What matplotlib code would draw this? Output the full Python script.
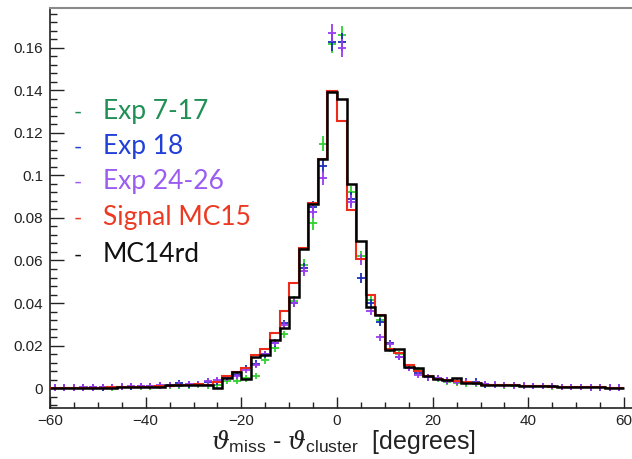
import numpy as np
import matplotlib
matplotlib.use("Agg")
import matplotlib.pyplot as plt
from matplotlib.ticker import MultipleLocator

# ---------------- data ----------------
bin_edges = np.arange(-60, 62, 2)          # 2-degree bins from -60 to 60
centers = np.arange(-59, 60, 2)             # bin centres

# MC14rd (black histogram)
mc14rd = [0.0002, 0.0001, 0.0002, 0.0002, 0.0001, 0.0002, 0.0002,   # -59..-47
          0.0004, 0.0005, 0.0006, 0.0005, 0.0007,                  # -45..-37
          0.0012, 0.0012, 0.0015, 0.0016,                          # -35..-29
          0.0014, 0.0002, 0.0047, 0.0075, 0.0041,                  # -27..-19
          0.0147, 0.0155, 0.0225, 0.0281, 0.0430, 0.0655, 0.0866,  # -17..-5
          0.1076, 0.1394, 0.1358, 0.0960, 0.0690, 0.0380, 0.0344,  # -3..9
          0.0180, 0.0182, 0.0098, 0.0094, 0.0055, 0.0042, 0.0038,  # 11..23
          0.0046, 0.0022, 0.0022, 0.0014, 0.0014, 0.0013, 0.0014, # 25..37
          0.0009, 0.0010, 0.0008, 0.0009, 0.0004, 0.0004, 0.0003, # 39..51
          0.0004, 0.0003, 0.0002, 0.0002]                           # 53..59

# Signal MC15 (red histogram)
signal_mc15 = [0.0002, 0.0002, 0.0001, 0.0002, 0.0002, 0.0002, 0.0003,
               0.0004, 0.0006, 0.0005, 0.0006, 0.0008,
               0.0011, 0.0013, 0.0014, 0.0017,
               0.0016, 0.0030, 0.0055, 0.0077, 0.0093,
               0.0155, 0.0182, 0.0260, 0.0362, 0.0493, 0.0657, 0.0869,
               0.1076, 0.1399, 0.1258, 0.0838, 0.0605, 0.0436, 0.0344,
               0.0185, 0.0165, 0.0110, 0.0082, 0.0056, 0.0041, 0.0036,
               0.0031, 0.0026, 0.0022, 0.0016, 0.0014, 0.0013, 0.0012,
               0.0010, 0.0009, 0.0008, 0.0007, 0.0005, 0.0004, 0.0003,
               0.0003, 0.0003, 0.0002, 0.0002]

# Exp 7-17 (green points)
exp_7_17 = [0.0001, 0.0002, 0.0001, 0.0002, 0.0002, 0.0002, 0.0003,
            0.0005, 0.0005, 0.0006, 0.0007, 0.0008,
            0.0010, 0.0011, 0.0012, 0.0013,
            0.0012, 0.0014, 0.0032, 0.0033, 0.0045,
            0.0057, 0.0130, 0.0186, 0.0252, 0.0410, 0.0580, 0.0775,
            0.1150, 0.1620, 0.1660, 0.0920, 0.0620, 0.0414, 0.0320,
            0.0185, 0.0160, 0.0093, 0.0085, 0.0050, 0.0042, 0.0030,
            0.0025, 0.0022, 0.0020, 0.0016, 0.0014, 0.0012, 0.0011,
            0.0010, 0.0009, 0.0008, 0.0007, 0.0006, 0.0005, 0.0004,
            0.0003, 0.0003, 0.0002, 0.0002]

# Exp 18 (blue points)
exp_18 = [0.0002, 0.0002, 0.0002, 0.0002, 0.0003, 0.0003, 0.0004,
          0.0006, 0.0007, 0.0008, 0.0009, 0.0011,
          0.0013, 0.0025, 0.0016, 0.0018,
          0.0030, 0.0030, 0.0046, 0.0061, 0.0093,
          0.0115, 0.0158, 0.0210, 0.0304, 0.0400, 0.0565, 0.0850,
          0.1045, 0.1630, 0.1630, 0.0890, 0.0518, 0.0400, 0.0310,
          0.0210, 0.0147, 0.0096, 0.0070, 0.0050, 0.0046, 0.0035,
          0.0030, 0.0030, 0.0030, 0.0017, 0.0015, 0.0013, 0.0012,
          0.0010, 0.0009, 0.0008, 0.0008, 0.0006, 0.0005, 0.0004,
          0.0003, 0.0003, 0.0002, 0.0002]

# Exp 24-26 (purple points)
exp_24_26 = [0.0002, 0.0002, 0.0002, 0.0003, 0.0003, 0.0004, 0.0004,
             0.0007, 0.0008, 0.0009, 0.0010, 0.0012,
             0.0014, 0.0016, 0.0018, 0.0020,
             0.0034, 0.0038, 0.0046, 0.0058, 0.0085,
             0.0108, 0.0160, 0.0213, 0.0296, 0.0400, 0.0550, 0.0830,
             0.0987, 0.1670, 0.1600, 0.0877, 0.0605, 0.0362, 0.0239,
             0.0208, 0.0147, 0.0096, 0.0061, 0.0050, 0.0046, 0.0035,
             0.0030, 0.0028, 0.0025, 0.0018, 0.0016, 0.0014, 0.0012,
             0.0011, 0.0010, 0.0009, 0.0008, 0.0006, 0.0005, 0.0004,
             0.0003, 0.0003, 0.0002, 0.0002]

legend_labels = ["Exp 7-17", "Exp 18", "Exp 24-26", "Signal MC15", "MC14rd"]
x_label = r"$\vartheta_{\mathrm{miss}}$ - $\vartheta_{\mathrm{cluster}}$  [degrees]"
x_ticks = [-60, -40, -20, 0, 20, 40, 60]
y_ticks = [0, 0.02, 0.04, 0.06, 0.08, 0.1, 0.12, 0.14, 0.16]
y_tick_labels = ["0", "0.02", "0.04", "0.06", "0.08", "0.1", "0.12", "0.14", "0.16"]

# ---------------- style ----------------
plt.rcParams["font.family"] = ["Liberation Sans", "DejaVu Sans"]
plt.rcParams["mathtext.fontset"] = "custom"
plt.rcParams["mathtext.rm"] = "Liberation Sans"
plt.rcParams["mathtext.it"] = "DejaVu Serif:italic"

W, H = 632, 459
fig = plt.figure(figsize=(W / 100, H / 100), dpi=100)
ax = fig.add_axes([50 / W, 1 - 408 / H, 598 / W, 400 / H])

pt_colors = {"Exp 7-17": "#2fd12f", "Exp 18": "#1c2db5", "Exp 24-26": "#9a3cf0"}
txt_colors = ["#1f8f55", "#2140d8", "#9b5cf2", "#ec3a22", "#111111"]

datasets = [("Exp 7-17", exp_7_17), ("Exp 18", exp_18), ("Exp 24-26", exp_24_26)]
for name, vals in datasets:
    v = np.array(vals)
    yerr = np.maximum(0.0015, 0.0105 * np.sqrt(v))
    ax.errorbar(centers, v, xerr=0.85, yerr=yerr, fmt="none",
                ecolor=pt_colors[name], elinewidth=1.3, capsize=0, zorder=3)

ax.stairs(mc14rd, bin_edges, color="black", linewidth=1.8, zorder=4)
ax.stairs(signal_mc15, bin_edges, color="#ee2a1a", linewidth=1.5, zorder=3.5)

ax.set_xlim(-60, 65)
ax.set_ylim(-0.00941, 0.17882)
ax.set_xticks(x_ticks)
ax.set_xticklabels([str(t) if t >= 0 else "\u2212" + str(-t) for t in x_ticks])
ax.set_yticks(y_ticks)
ax.set_yticklabels(y_tick_labels)
ax.xaxis.set_minor_locator(MultipleLocator(5))
ax.yaxis.set_minor_locator(MultipleLocator(0.004))
ax.tick_params(axis="both", which="both", direction="in", labelsize=11,
               colors="#222222", width=1.0, top=False, right=False)
ax.tick_params(axis="y", which="major", length=10, pad=5)
ax.tick_params(axis="y", which="minor", length=5)
ax.tick_params(axis="x", which="major", length=8, pad=4)
ax.tick_params(axis="x", which="minor", length=4)
for s in ["left", "bottom"]:
    ax.spines[s].set_color("#222222")
    ax.spines[s].set_linewidth(1.2)
ax.spines["top"].set_color("#8a8a8a")
ax.spines["top"].set_linewidth(1.5)
ax.spines["right"].set_visible(False)

# x label
fig.text(344 / W, 1 - 449 / H, x_label, ha="center", va="baseline", fontsize=18,
         color="#222222")

# legend (text entries with a coloured dash)
baselines = [119, 154, 189, 225, 262]
for lab, col, yb in zip(legend_labels, txt_colors, baselines):
    fig.text(103 / W, 1 - yb / H, lab, ha="left", va="baseline", fontsize=19,
             color=col, family=["Lato", "DejaVu Sans"])
    fig.text(78 / W, 1 - (yb - 6) / H, "-", ha="center", va="center",
             fontsize=16, color=col, family=["Lato", "DejaVu Sans"])

fig.savefig("out.png", dpi=100)
